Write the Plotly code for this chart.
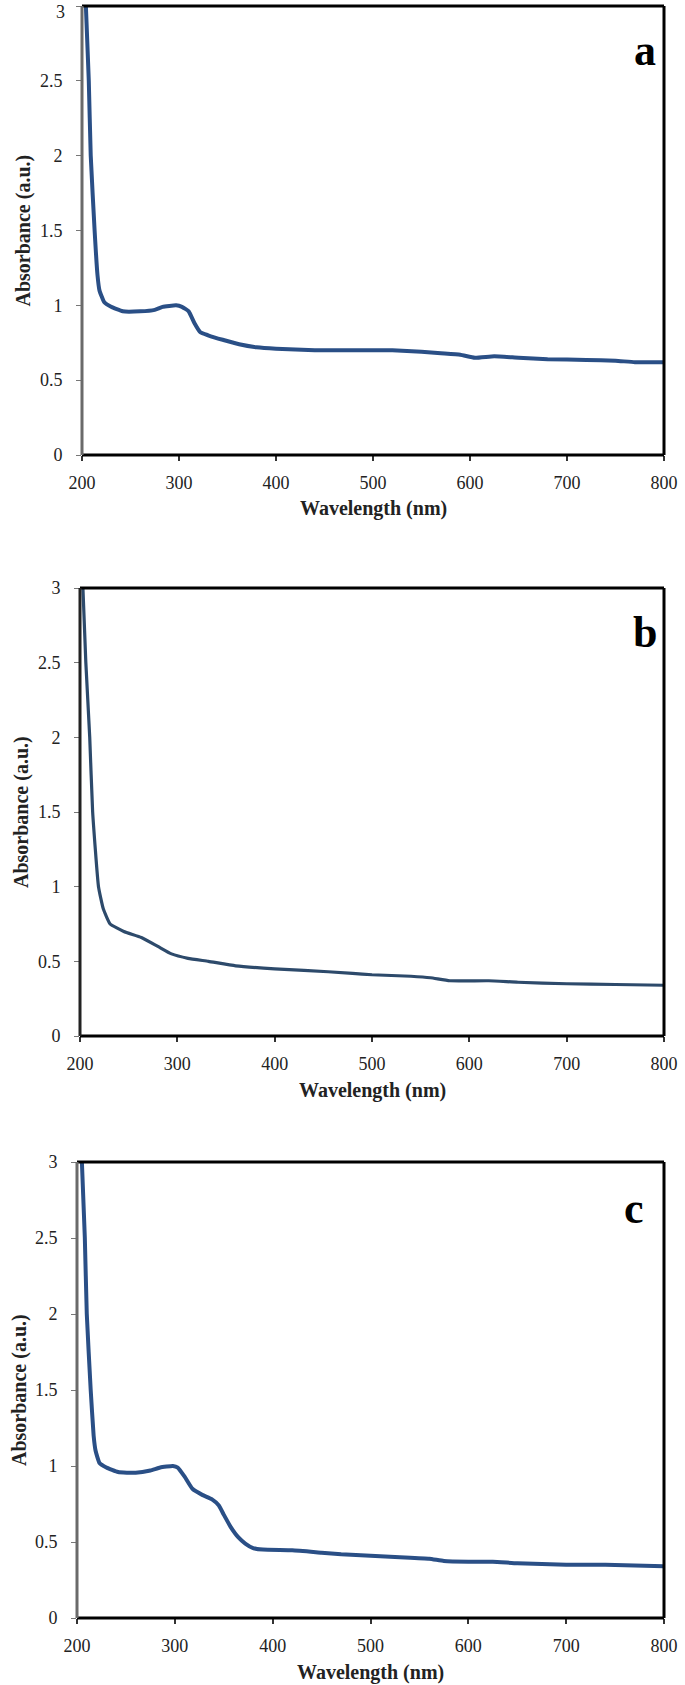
import plotly.graph_objects as go

W, H = 685, 1685

# Panel a
wl_a = [204, 207, 209, 213, 216, 218, 223, 230, 242, 260, 275, 283, 297, 303, 310, 316, 322, 330, 345, 362, 380, 400,
        440, 460, 500, 520, 550, 570, 590, 605, 625, 650, 680, 720, 750, 770, 800]
abs_a = [3.0, 2.5, 2.0, 1.5, 1.2, 1.1, 1.02, 0.99, 0.96, 0.96, 0.97, 0.99, 1.0, 0.99, 0.96, 0.88, 0.82, 0.80, 0.77, 0.74,
         0.72, 0.71, 0.70, 0.70, 0.70, 0.70, 0.69, 0.68, 0.67, 0.65, 0.66, 0.65, 0.64, 0.635, 0.63, 0.62, 0.62]

# Panel b
wl_b = [203, 206, 210, 213, 219, 224, 231, 245, 263, 280, 294, 311, 332, 360, 400, 430, 480, 500, 540, 560, 580, 620,
        650, 700, 750, 800]
abs_b = [3.0, 2.5, 2.0, 1.5, 1.0, 0.85, 0.75, 0.70, 0.66, 0.60, 0.55, 0.52, 0.50, 0.47, 0.45, 0.44, 0.42, 0.41, 0.40,
         0.39, 0.37, 0.37, 0.36, 0.35, 0.345, 0.34]

# Panel c
wl_c = [205, 208, 210, 214, 217, 219, 223, 230, 242, 260, 275, 285, 298, 303, 310, 318, 328, 338, 345, 350, 357, 365,
        372, 380, 390, 420, 450, 470, 500, 530, 560, 575, 600, 625, 650, 700, 740, 800]
abs_c = [3.0, 2.5, 2.0, 1.5, 1.2, 1.1, 1.02, 0.99, 0.96, 0.955, 0.97, 0.99, 1.0, 0.99, 0.93, 0.85, 0.81, 0.78, 0.74,
         0.68, 0.60, 0.53, 0.49, 0.46, 0.45, 0.445, 0.43, 0.42, 0.41, 0.40, 0.39, 0.375, 0.37, 0.37, 0.36, 0.35, 0.35,
         0.34]

x_ticks = [200, 300, 400, 500, 600, 700, 800]
y_ticks = [0, 0.5, 1, 1.5, 2, 2.5, 3]
y_tick_text = ["0", "0.5", "1", "1.5", "2", "2.5", "3"]
panel_labels = ["a", "b", "c"]
x_title = "Wavelength (nm)"
y_title = "Absorbance (a.u.)"

# pixel boxes: (left, right, top, bottom)
boxes = [(82, 664, 6, 455), (80, 664, 588, 1036), (77, 664, 1162, 1618)]
series = [(wl_a, abs_a, "#2A4F86", 4), (wl_b, abs_b, "#2D4A6B", 3.2), (wl_c, abs_c, "#2A4F86", 4)]
label_pos = [(645, 50), (645, 632), (634, 1208)]
ytitle_x = [23, 21, 19]
left_col = ["#6a6a6a", "#222222", "#6a6a6a"]

FONT = "Liberation Serif"
fig = go.Figure()
layout = dict(width=W, height=H, margin=dict(l=0, r=0, t=0, b=0, pad=0, autoexpand=False),
              paper_bgcolor="white", plot_bgcolor="white", showlegend=False)

annotations = []
shapes = []
for i, ((l, r, t, b), (xs, ys, col, lw)) in enumerate(zip(boxes, series)):
    n = "" if i == 0 else str(i + 1)
    fig.add_trace(go.Scatter(x=xs, y=ys, mode="lines", line=dict(color=col, width=lw, shape="spline", smoothing=0.4),
                             xaxis="x" + n, yaxis="y" + n, hoverinfo="skip"))
    ytext = list(y_tick_text)
    if i == 0:
        # top label of the first panel sits at the page edge: drawn as an annotation kept inside the page
        ytext[-1] = ""
    layout["xaxis" + n] = dict(domain=[l / W, r / W], anchor="y" + n, range=[200, 800], tickvals=x_ticks,
                               ticks="outside", ticklen=5, tickwidth=1.5, tickcolor="#333", ticklabelstandoff=6,
                               showline=False, showgrid=False, zeroline=False, automargin=False,
                               ticklabeloverflow="allow",
                               tickfont=dict(family=FONT, size=18, color="#222"))
    layout["yaxis" + n] = dict(domain=[1 - b / H, 1 - t / H], anchor="x" + n, range=[0, 3], tickvals=y_ticks,
                               ticktext=ytext, ticks="outside", ticklen=5, tickwidth=1, tickcolor="#777",
                               ticklabelstandoff=10, automargin=False, ticklabeloverflow="allow",
                               showline=False, showgrid=False, zeroline=False,
                               tickfont=dict(family=FONT, size=18, color="#222"))
    if i == 0:
        annotations.append(dict(text=y_tick_text[-1], xref="paper", yref="paper", x=(l - 15) / W, y=1,
                                xanchor="right", yanchor="top", showarrow=False,
                                font=dict(family=FONT, size=18, color="#222")))
    xr, yr = "x" + n + " domain", "y" + n + " domain"
    shapes.append(dict(type="line", xref=xr, yref=yr, x0=0, x1=1, y0=1, y1=1, line=dict(color="black", width=3)))
    shapes.append(dict(type="line", xref=xr, yref=yr, x0=1, x1=1, y0=0, y1=1, line=dict(color="black", width=3)))
    shapes.append(dict(type="line", xref=xr, yref=yr, x0=0, x1=1, y0=0, y1=0, line=dict(color="black", width=3)))
    shapes.append(dict(type="line", xref=xr, yref=yr, x0=0, x1=0, y0=0, y1=1, line=dict(color=left_col[i], width=3)))
    lx, ly = label_pos[i]
    annotations.append(dict(text="<b>" + panel_labels[i] + "</b>", xref="paper", yref="paper", x=lx / W, y=1 - ly / H,
                            xanchor="center", yanchor="middle", showarrow=False,
                            font=dict(family=FONT, size=44, color="black")))
    annotations.append(dict(text="<b>" + x_title + "</b>", xref="paper", yref="paper", x=(l + r) / 2 / W,
                            y=1 - (b + 54) / H, xanchor="center", yanchor="middle", showarrow=False,
                            font=dict(family=FONT, size=20, color="#222")))
    annotations.append(dict(text="<b>" + y_title + "</b>", xref="paper", yref="paper", x=ytitle_x[i] / W,
                            y=1 - (t + b) / 2 / H, xanchor="center", yanchor="middle", showarrow=False,
                            textangle=-90, font=dict(family=FONT, size=20, color="#222")))

layout["shapes"] = shapes
layout["annotations"] = annotations
fig.update_layout(**layout)
fig.write_html("out.html", config={"displayModeBar": False},
               post_script="document.body.style.margin='0';document.body.style.padding='0';"
                           "document.body.style.overflow='hidden';")
